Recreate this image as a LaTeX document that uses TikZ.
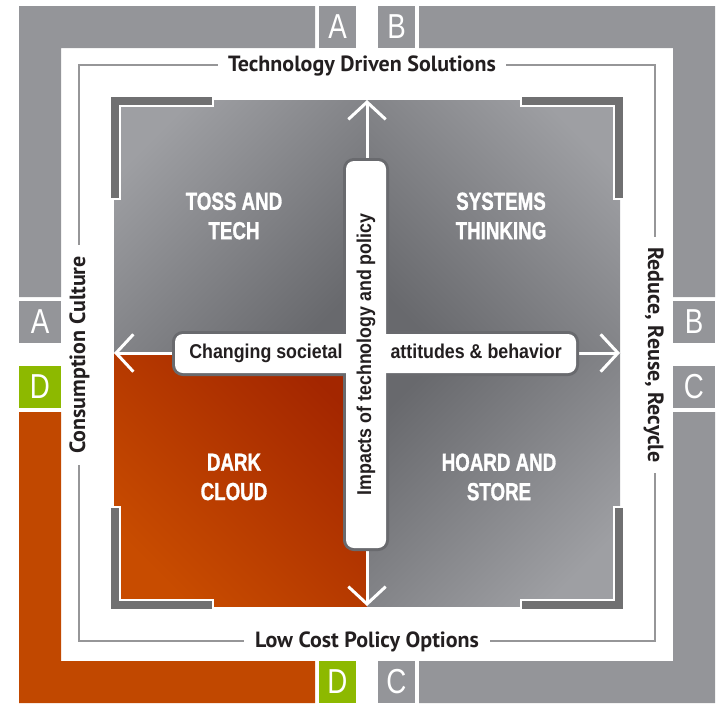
\documentclass[tikz,border=0pt]{standalone}
\usepackage{fontspec}
\usepackage{tikz}
\usetikzlibrary{arrows.meta}

\newfontfamily\quadfont[FakeStretch=0.76,FakeBold=1.2]{Liberation Sans}
\newfontfamily\boxfont[FakeStretch=0.89]{Liberation Sans}
\newfontfamily\framefont{PT Sans}
\newfontfamily\letterfont[FakeStretch=0.8]{Liberation Sans}

\definecolor{bandgray}{RGB}{148,149,153}
\definecolor{bandorange}{RGB}{193,72,0}
\definecolor{dgreen}{RGB}{141,185,0}
\definecolor{bracketgray}{RGB}{112,112,113}
\definecolor{quadlight}{RGB}{158,159,163}
\definecolor{quaddark}{RGB}{104,105,109}
\definecolor{orangelight}{RGB}{200,76,0}
\definecolor{orangedark}{RGB}{163,38,0}
\definecolor{boxgray}{RGB}{105,106,110}
\definecolor{inkdark}{RGB}{35,31,32}
\definecolor{linegray}{RGB}{150,150,152}

\begin{document}
\begin{tikzpicture}[x=0.75pt,y=-0.75pt,
		letter box/.style={fill=#1,text=white,font=\letterfont\fontsize{26}{26}\selectfont,inner sep=0pt,minimum height=31.5pt},
		frame label/.style={fill=white,text=inkdark,font=\framefont\bfseries\fontsize{16.5}{16.5}\selectfont,inner xsep=8pt,inner ysep=2pt,text height=12pt,text depth=3pt},
		quad label/.style={text=white,align=center,font=\quadfont\bfseries\fontsize{18.5}{22}\selectfont},
		box shape/.style={rectangle,rounded corners=6pt,inner sep=0pt,outer sep=0pt},
		box line/.style={box shape,draw=boxgray,line width=4.5pt},
		box fill/.style={box shape,fill=white,text=inkdark,font=\boxfont\bfseries\fontsize{15}{15}\selectfont},
		arrow line/.style={white,line width=2.25pt,-{Straight Barb[length=13pt,width=28pt]}}
		]
		
		\useasboundingbox (0,0) rectangle (727,707);
		
		% outer frame pieces
		\fill[bandgray] (19,6) -- (315,6) -- (315,48) -- (61,48) -- (61,297) -- (19,297) -- cycle;
		\fill[bandgray] (419,6) -- (715,6) -- (715,297) -- (673,297) -- (673,48) -- (419,48) -- cycle;
		\fill[bandgray] (715,412) -- (715,703) -- (419,703) -- (419,661) -- (673,661) -- (673,412) -- cycle;
		\fill[bandorange] (19,412) -- (61,412) -- (61,661) -- (315,661) -- (315,703) -- (19,703) -- cycle;
		
		\node[letter box=bandgray,minimum width=28pt] (At) at (337.5,27) {A};
		\node[letter box=bandgray,minimum width=28pt] (Bt) at (396.5,27) {B};
		\node[letter box=bandgray,minimum width=31.5pt] (Al) at (40,322) {A};
		\node[letter box=dgreen,minimum width=31.5pt] (Dl) at (40,386.5) {D};
		\node[letter box=bandgray,minimum width=31.5pt] (Br) at (694,322) {B};
		\node[letter box=bandgray,minimum width=31.5pt] (Cr) at (694,386.5) {C};
		\node[letter box=dgreen,minimum width=28pt] (Db) at (337.5,682) {D};
		\node[letter box=bandgray,minimum width=28pt] (Cb) at (396.5,682) {C};
		
		\draw[linegray,line width=1.2pt] (79,65) rectangle (655,641);
		\node[frame label] (tech) at (362,65) {Technology Driven Solutions};
		\node[frame label] (cost) at (367,641) {Low Cost Policy Options};
		\node[frame label,rotate=90] (cons) at (79,355) {Consumption Culture};
		\node[frame label,rotate=-90] (reduce) at (654,355) {Reduce, Reuse, Recycle};
		
		% quadrants
		\shade[top color=quadlight,bottom color=quaddark,shading angle=45] (114,100) rectangle (367,353);
		\shade[top color=quadlight,bottom color=quaddark,shading angle=-45] (367,100) rectangle (620,353);
		\shade[top color=orangedark,bottom color=orangelight,shading angle=-45] (114,353) rectangle (367,606);
		\shade[top color=quaddark,bottom color=quadlight,shading angle=45] (367,353) rectangle (620,606);
		
		\foreach \sx/\sy in {1/1,-1/1,1/-1,-1/-1} {
			\begin{scope}[shift={(367,353)},xscale=\sx,yscale=\sy]
				\filldraw[fill=bracketgray,draw=white,line width=1.5pt]
				(-257,-257) -- (-154,-257) -- (-154,-247) -- (-247,-247) -- (-247,-154) -- (-257,-154) -- cycle;
			\end{scope}
		}
		
		\node[quad label] (toss) at (234,216) {TOSS AND\\TECH};
		\node[quad label] (systems) at (501,216) {SYSTEMS\\THINKING};
		\node[quad label] (dark) at (234,477) {DARK\\CLOUD};
		\node[quad label] (hoard) at (499,477) {HOARD AND\\STORE};
		
		% axes
		\coordinate (mid) at (367,353);
		\coordinate (tipn) at (367,100);
		\coordinate (tips) at (367,606);
		\coordinate (tipw) at (114,353);
		\coordinate (tipe) at (620,353);
		\foreach \t in {n,s,w,e}
			\draw[arrow line] (mid) -- (tip\t);
		
		\node[box line,minimum width=300.75pt,minimum height=29.25pt] (hline) at (375.5,353.5) {};
		\node[box line,minimum width=30pt,minimum height=290.25pt] (vline) at (366,354.5) {};
		\node[box fill,minimum width=300.75pt,minimum height=29.25pt] (hbox) at (hline) {Changing societal\hspace{36pt}attitudes \& behavior};
		\node[box fill,rotate=90,minimum width=290.25pt,minimum height=30pt] (vbox) at (vline) {Impacts of technology and policy};
		
\end{tikzpicture}
\end{document}
